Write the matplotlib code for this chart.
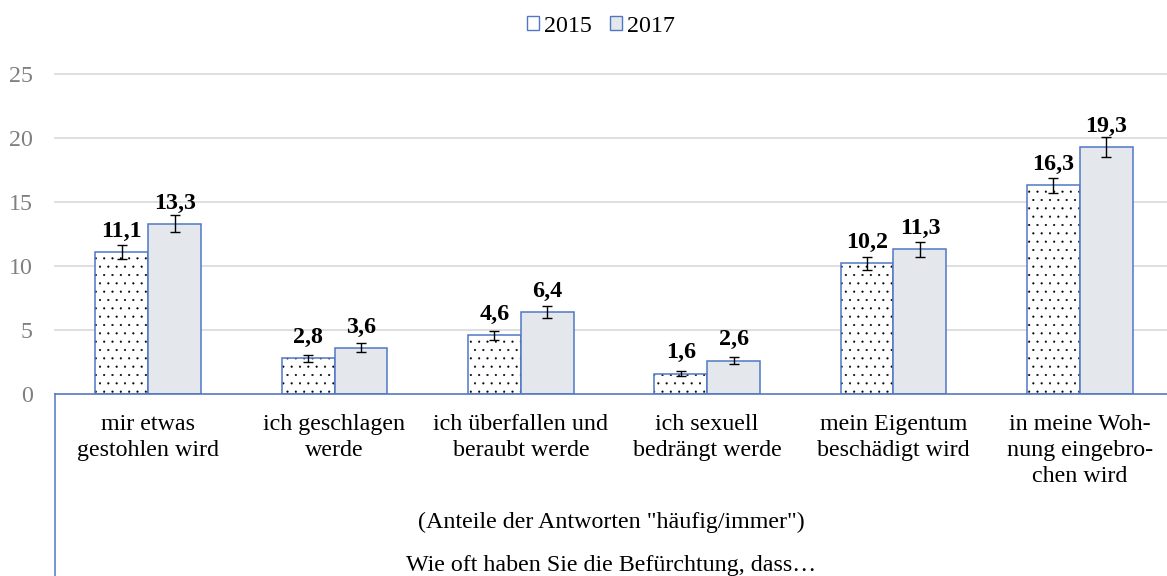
import numpy as np
import matplotlib
matplotlib.use("Agg")
import matplotlib.pyplot as plt
from matplotlib.patches import Patch
from matplotlib.lines import Line2D

plt.rcParams['font.family'] = ['Liberation Serif', 'DejaVu Serif']
plt.rcParams['hatch.linewidth'] = 0.3

categories = ["mir etwas\ngestohlen wird",
              "ich geschlagen\nwerde",
              "ich überfallen und\nberaubt werde",
              "ich sexuell\nbedrängt werde",
              "mein Eigentum\nbeschädigt wird",
              "in meine Woh-\nnung eingebro-\nchen wird"]
years = ["2015", "2017"]
v2015 = [11.1, 2.8, 4.6, 1.6, 10.2, 16.3]
v2017 = [13.3, 3.6, 6.4, 2.6, 11.3, 19.3]
err2015 = [0.55, 0.28, 0.36, 0.2, 0.52, 0.6]
err2017 = [0.65, 0.35, 0.48, 0.28, 0.58, 0.75]
yticks = [0, 5, 10, 15, 20, 25]

BLUE = '#5077c4'
GREY = '#e4e7ec'
FS = 17.3

W, H = 1167, 576
fig = plt.figure(figsize=(W / 100, H / 100), dpi=100)
ax_l, ax_b = 55 / W, (H - 394) / H
ax = fig.add_axes([ax_l, ax_b, (1173 - 55) / W, (394 - 74) / H])

x = np.arange(len(categories))
bw = 0.284

# 2015: dotted fill (black dots), then blue outline on top
ax.bar(x - bw / 2, v2015, bw, color='white', edgecolor='black', linewidth=0,
       hatch='..', zorder=2)
ax.bar(x - bw / 2, v2015, bw, fill=False, edgecolor=BLUE, linewidth=1.1, zorder=3)
ax.bar(x + bw / 2, v2017, bw, color=GREY, edgecolor=BLUE, linewidth=1.1, zorder=3)

ax.errorbar(x - bw / 2, v2015, yerr=err2015, fmt='none', ecolor='black',
            elinewidth=1.0, capsize=3.8, capthick=1.0, zorder=4)
ax.errorbar(x + bw / 2, v2017, yerr=err2017, fmt='none', ecolor='black',
            elinewidth=1.0, capsize=3.8, capthick=1.0, zorder=4)

for xs, vals in ((x - bw / 2, v2015), (x + bw / 2, v2017)):
    for xi, v in zip(xs, vals):
        ax.annotate(f"{v:.1f}".replace('.', ','), xy=(xi, v), xytext=(0, 11),
                    textcoords='offset points', ha='center', va='baseline',
                    fontsize=FS, fontweight='bold', color='black')

ax.set_xlim(-0.5, len(categories) - 0.5)
ax.set_ylim(0, 25)
ax.set_yticks(yticks)
ax.set_yticklabels([str(t) for t in yticks], fontsize=FS, color='#7f7f7f')
ax.tick_params(axis='y', length=0, pad=16)
ax.set_xticks(x)
ax.set_xticklabels(categories, fontsize=FS, color='black')
ax.tick_params(axis='x', length=0, pad=14.5)
for t in ax.get_xticklabels():
    t.set_linespacing(1.3)

ax.grid(axis='y', color='#d9d9d9', linewidth=1.2, zorder=0)
ax.set_axisbelow(True)
for gl in ax.get_ygridlines():
    gl.set_clip_on(False)
for s in ('left', 'right', 'top'):
    ax.spines[s].set_visible(False)
ax.spines['bottom'].set_color(BLUE)
ax.spines['bottom'].set_linewidth(1.1)
ax.spines['bottom'].set_zorder(5)

# left border of the category-axis frame
fig.add_artist(Line2D([ax_l, ax_l], [0, ax_b], color=BLUE, linewidth=1.1))

cx = 611 / W
fig.text(cx, (H - 528) / H, '(Anteile der Antworten "häufig/immer")',
         ha='center', va='baseline', fontsize=FS)
fig.text(cx, (H - 571) / H, 'Wie oft haben Sie die Befürchtung, dass…',
         ha='center', va='baseline', fontsize=FS)

handles = [Patch(facecolor='white', edgecolor=BLUE, hatch='.', linewidth=1.0),
           Patch(facecolor=GREY, edgecolor=BLUE, linewidth=1.0)]
fig.legend(handles, years, loc='center', bbox_to_anchor=(601 / W, (H - 26) / H),
           ncol=2, frameon=False, fontsize=FS, handlelength=0.5, handleheight=0.5,
           handletextpad=0.2, columnspacing=0.75, borderpad=0)

fig.savefig('out.png', dpi=100)
